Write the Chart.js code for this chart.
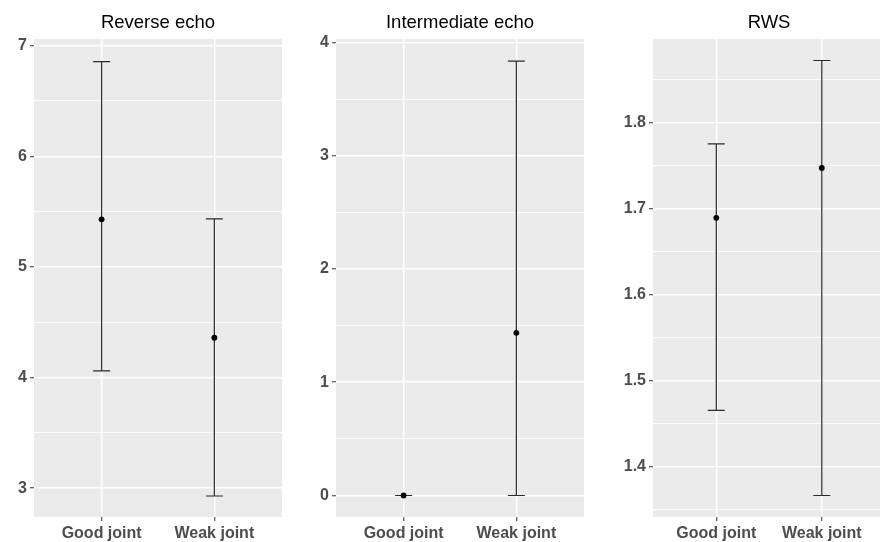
<!DOCTYPE html>
<html>
<head>
<meta charset="utf-8">
<script src="https://cdn.jsdelivr.net/npm/chart.js@4.4.1/dist/chart.umd.min.js"></script>
<style>
  html, body { margin: 0; padding: 0; background: #fff; overflow: hidden; }
  #wrap { position: relative; width: 880px; height: 542px; overflow: hidden; }
  canvas { position: absolute; top: 0; }
</style>
</head>
<body>
<div id="wrap">
  <canvas id="c1" width="290" height="542" style="left:0px"></canvas>
  <canvas id="c2" width="290" height="542" style="left:300px"></canvas>
  <canvas id="c3" width="298" height="542" style="left:590px"></canvas>
</div>
<script>
const categories = ['Good joint', 'Weak joint'];

// Reverse echo
const reverseMean = [5.43, 4.36];
const reverseLow = [4.06, 2.93];
const reverseHigh = [6.855, 5.435];
const reverseTicks = [3, 4, 5, 6, 7];
const reverseRange = [2.74, 7.06];

// Intermediate echo
const interMean = [0, 1.436];
const interLow = [0, 0];
const interHigh = [0, 3.835];
const interTicks = [0, 1, 2, 3, 4];
const interRange = [-0.19, 4.03];

// RWS
const rwsMean = [1.689, 1.747];
const rwsLow = [1.465, 1.366];
const rwsHigh = [1.775, 1.872];
const rwsTicks = [1.4, 1.5, 1.6, 1.7, 1.8];
const rwsRange = [1.341, 1.897];

const FONT = "'Liberation Sans', Arial, sans-serif";

const panelBg = {
  id: 'panelBg',
  beforeDraw(chart) {
    const a = chart.chartArea, ctx = chart.ctx;
    ctx.save();
    ctx.fillStyle = '#ebebeb';
    ctx.fillRect(a.left, a.top, a.right - a.left, a.bottom - a.top);
    ctx.restore();
  }
};

const errorBars = {
  id: 'errorBars',
  beforeDatasetsDraw(chart, args, opts) {
    const x = chart.scales.x, y = chart.scales.y, ctx = chart.ctx;
    ctx.save();
    ctx.strokeStyle = '#2b2b2b';
    ctx.lineWidth = 1.2;
    opts.low.forEach((lo, i) => {
      const px = x.getPixelForValue(i + 1);
      const y0 = y.getPixelForValue(lo);
      const y1 = y.getPixelForValue(opts.high[i]);
      ctx.beginPath();
      ctx.moveTo(px, y0); ctx.lineTo(px, y1);
      ctx.moveTo(px - 8.5, y0); ctx.lineTo(px + 8.5, y0);
      ctx.moveTo(px - 8.5, y1); ctx.lineTo(px + 8.5, y1);
      ctx.stroke();
    });
    ctx.restore();
  }
};

const panelTitle = {
  id: 'panelTitle',
  afterDraw(chart, args, opts) {
    const a = chart.chartArea, ctx = chart.ctx;
    ctx.save();
    ctx.fillStyle = '#000';
    ctx.font = '18.5px ' + FONT;
    ctx.textAlign = 'center';
    ctx.textBaseline = 'alphabetic';
    ctx.fillText(opts.text, (a.left + a.right) / 2, 28);
    ctx.restore();
  }
};

function makePanel(id, title, mean, low, high, ticks, range, yWidth, padRight) {
  const step = ticks[1] - ticks[0];
  const gridTicks = [];
  ticks.forEach((t, i) => {
    gridTicks.push({ value: t, lbl: String(t) });
    const mid = +(t + step / 2).toFixed(4);
    if (mid < range[1]) gridTicks.push({ value: mid, lbl: '' });
    if (i === 0) {
      const before = +(t - step / 2).toFixed(4);
      if (before > range[0]) gridTicks.unshift({ value: before, lbl: '' });
    }
  });

  new Chart(document.getElementById(id), {
    type: 'scatter',
    data: {
      datasets: [{
        data: categories.map((c, i) => ({ x: i + 1, y: mean[i] })),
        backgroundColor: '#000',
        borderWidth: 0,
        pointRadius: 2.9,
        pointHoverRadius: 2.9
      }]
    },
    options: {
      responsive: false,
      animation: false,
      events: [],
      layout: { padding: { top: 39, right: padRight, bottom: 0, left: 0 } },
      plugins: {
        legend: { display: false },
        tooltip: { enabled: false },
        title: { display: false },
        panelTitle: { text: title },
        errorBars: { low: low, high: high }
      },
      scales: {
        x: {
          type: 'linear',
          min: 0.4,
          max: 2.6,
          bounds: 'data',
          afterBuildTicks: s => { s.ticks = categories.map((c, i) => ({ value: i + 1, lbl: c })); },
          afterFit: s => { s.height = 25; },
          border: { display: false },
          grid: { color: '#ffffff', lineWidth: 1.5, tickColor: '#333333', tickLength: 4, tickWidth: 1 },
          ticks: {
            autoSkip: false,
            maxRotation: 0,
            padding: 3,
            color: '#4d4d4d',
            font: { family: FONT, size: 16, weight: 'bold' },
            callback: (v, i, t) => t[i].lbl
          }
        },
        y: {
          type: 'linear',
          min: range[0],
          max: range[1],
          bounds: 'data',
          afterBuildTicks: s => { s.ticks = gridTicks.map(t => ({ value: t.value, lbl: t.lbl })); },
          afterFit: s => { s.width = yWidth; },
          border: { display: false },
          grid: {
            color: '#ffffff',
            lineWidth: c => (c.tick && c.tick.lbl ? 1.5 : 0.8),
            tickColor: c => (c.tick && c.tick.lbl ? '#333333' : 'rgba(0,0,0,0)'),
            tickLength: 4,
            tickWidth: 1
          },
          ticks: {
            autoSkip: false,
            padding: 3,
            color: '#4d4d4d',
            font: { family: FONT, size: 16, weight: 'bold' },
            callback: (v, i, t) => t[i].lbl
          }
        }
      }
    },
    plugins: [panelBg, errorBars, panelTitle]
  });
}

makePanel('c1', 'Reverse echo', reverseMean, reverseLow, reverseHigh, reverseTicks, reverseRange, 34, 8);
makePanel('c2', 'Intermediate echo', interMean, interLow, interHigh, interTicks, interRange, 36, 6);
makePanel('c3', 'RWS', rwsMean, rwsLow, rwsHigh, rwsTicks, rwsRange, 63, 0);
</script>
</body>
</html>
